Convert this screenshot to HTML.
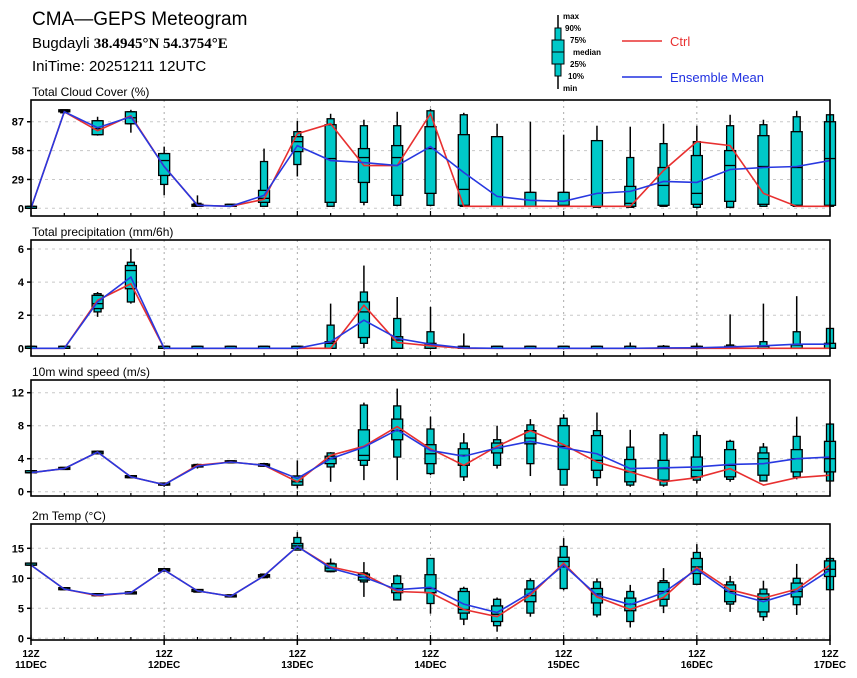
<!DOCTYPE html>
<html><head><meta charset="utf-8">
<style>
html,body{margin:0;padding:0;background:#fff;}
svg{display:block;font-family:"Liberation Sans","DejaVu Sans",sans-serif;}
</style></head>
<body>
<svg id="chart" width="857" height="678" viewBox="0 0 857 678">
<text x="32" y="25" font-size="19" fill="#000">CMA—GEPS Meteogram</text>
<text x="32" y="48" font-size="15" fill="#000">Bugdayli <tspan font-family="Liberation Serif,serif" font-weight="bold">38.4945°N 54.3754°E</tspan></text>
<text x="32" y="71" font-size="15" fill="#000">IniTime: 20251211 12UTC</text>
<g>
<line x1="558" y1="15" x2="558" y2="89" stroke="#000" stroke-width="1.5"/>
<rect x="555" y="28" width="6" height="48" fill="#00c8c8" stroke="#000"/>
<rect x="552" y="40" width="12" height="24" fill="#00c8c8" stroke="#000"/>
<line x1="552" y1="52" x2="564" y2="52" stroke="#000"/>
<g font-size="8" font-weight="bold" fill="#000">
<text x="563" y="19">max</text><text x="565" y="31">90%</text><text x="570" y="43">75%</text>
<text x="573" y="55">median</text><text x="570" y="67">25%</text><text x="568" y="79">10%</text><text x="563" y="91">min</text>
</g>
<line x1="622" y1="41" x2="662" y2="41" stroke="#e83030" stroke-width="1.5"/>
<text x="670" y="46" font-size="13" fill="#e83030">Ctrl</text>
<line x1="622" y1="77" x2="662" y2="77" stroke="#2030e0" stroke-width="1.5"/>
<text x="670" y="82" font-size="13" fill="#2030e0">Ensemble Mean</text>
</g>
</svg>
<script>
// ---- time axis ----
const nSteps = 25;
const dayLabels = ["11DEC","12DEC","13DEC","14DEC","15DEC","16DEC","17DEC"];

// ---- cloud cover (%) ----
const cloudMin = [0,96,73,76,13,2,2,2,32,2,3,2,2,2,2,2,2,1,1,2,0,0,2,2,2];
const cloudP10 = [0,96,74,85,24,2,2,2,44,2,6,3,3,2,2,2,2,1,1,2,1,1,2,2,2];
const cloudP25 = [0,97,74,85,33,2,2,6,57,6,26,13,15,3,2,2,2,2,2,3,4,7,4,3,3];
const cloudMed = [0,98,80,91,48,3,2,10,67,50,51,51,60,19,2,2,3,2,5,23,15,43,42,41,50];
const cloudP75 = [0,99,88,97,55,4,2,18,72,84,60,63,82,74,72,16,16,68,22,41,53,58,73,77,87];
const cloudP90 = [0,99,88,97,55,5,2,47,77,90,83,83,98,94,72,16,16,68,51,65,67,83,84,92,94];
const cloudMax = [0,99,92,99,62,13,2,60,88,95,89,97,100,96,85,87,74,83,82,85,83,94,89,98,95];
const cloudCtrl = [0,97,78,93,42,3,2,9,75,85,43,43,95,2,2,2,2,2,2,38,67,63,15,2,2];
const cloudMean = [0,97,81,92,42,3,2,13,63,48,46,43,62,36,12,8,7,15,17,27,26,39,41,42,48];

// ---- precipitation (mm/6h) ----
const prMin = [0,0,1.9,2.7,0,0,0,0,0,0,0,0,0,0,0,0,0,0,0,0,0,0,0,0,0];
const prP10 = [0,0,2.2,2.8,0,0,0,0,0,0,0.3,0,0,0,0,0,0,0,0,0,0,0,0,0,0];
const prP25 = [0,0,2.4,3.6,0,0,0,0,0,0,0.65,0,0,0,0,0,0,0,0,0,0,0,0,0,0];
const prMed = [0,0,2.7,4.7,0,0,0,0,0,0.3,2.2,0.5,0.2,0,0,0,0,0,0,0,0,0,0,0,0];
const prP75 = [0,0,3.2,5.0,0,0,0,0,0,0.4,2.8,0.7,0.3,0,0,0,0,0,0,0.05,0.05,0.1,0.1,0.2,0.3];
const prP90 = [0,0,3.3,5.2,0,0,0,0,0,1.4,3.4,1.8,1.0,0,0,0,0,0,0.02,0.05,0.1,0.2,0.4,1.0,1.2];
const prMax = [0,0,3.4,6.0,0,0,0,0,0,2.7,5.0,3.1,2.5,0.9,0,0,0,0,0.35,0.2,0.3,2.05,2.7,3.15,1.2];
const prCtrl = [0,0,2.9,3.9,0,0,0,0,0,0,2.6,0.35,0.15,0,0,0,0,0,0,0,0,0,0,0,0];
const prMean = [0,0,2.8,4.3,0,0,0,0,0,0.4,1.7,0.6,0.25,0.02,0,0,0,0,0,0.02,0.03,0.08,0.15,0.25,0.25];

// ---- wind speed (m/s) ----
const wsMin = [2.3,2.7,4.7,1.7,0.6,2.8,3.5,3.0,0.4,1.2,1.4,1.4,2.0,1.3,2.8,1.9,0.8,0.7,0.6,0.6,1.0,1.2,1.3,1.5,1.3];
const wsP10 = [2.3,2.7,4.6,1.7,0.8,3.0,3.5,3.1,0.8,3.0,3.2,4.2,2.2,1.8,3.2,3.4,0.8,1.7,0.8,0.8,1.4,1.5,1.3,1.8,1.3];
const wsP25 = [2.3,2.7,4.6,1.7,0.8,3.0,3.5,3.1,0.8,3.4,3.8,6.3,3.4,3.2,4.7,5.8,2.7,2.6,1.2,1.4,1.8,1.8,2.0,2.4,2.4];
const wsMed = [2.3,2.8,4.8,1.8,0.85,3.1,3.6,3.2,1.2,4.0,4.4,7.4,4.6,4.4,5.3,6.5,5.5,3.8,2.4,2.8,2.6,3.2,4.0,4.0,4.0];
const wsP75 = [2.3,2.9,4.9,1.9,0.9,3.2,3.6,3.3,1.9,4.3,7.5,8.8,5.7,5.2,5.9,7.4,8.0,6.8,3.9,3.8,4.2,5.1,4.7,5.1,6.1];
const wsP90 = [2.3,2.9,4.9,1.9,0.9,3.3,3.6,3.4,1.9,4.7,10.5,10.4,7.6,5.9,6.3,8.1,8.9,7.4,5.4,6.9,6.8,6.1,5.4,6.7,8.2];
const wsMax = [2.3,2.9,5.0,2.0,1.0,3.4,3.7,3.5,3.8,4.8,10.8,12.5,9.1,7.1,8.0,8.8,9.4,9.6,7.5,7.2,7.4,6.3,5.9,9.1,8.4];
const wsCtrl = [2.3,2.8,4.8,1.8,0.85,3.2,3.6,3.2,1.2,4.4,5.5,7.9,5.2,3.2,5.5,7.4,5.7,3.6,2.4,1.2,1.7,2.8,0.8,1.7,2.0];
const wsMean = [2.3,2.8,4.8,1.8,0.85,3.1,3.6,3.2,1.6,4.0,5.4,7.5,5.0,4.3,5.3,6.1,5.3,4.6,2.8,2.9,3.0,3.3,3.4,4.0,4.2];

// ---- 2m temperature (°C) ----
const tMin = [12.2,8.1,7.1,7.4,11.2,7.7,6.9,10.1,14.7,11.0,6.9,6.3,4.1,2.2,1.1,3.6,8.0,3.5,1.8,4.2,9.0,4.4,2.9,3.9,8.0];
const tP10 = [12.2,8.1,7.1,7.4,11.2,7.7,6.9,10.1,14.7,11.1,9.4,6.4,5.8,3.2,2.1,4.2,8.3,3.9,2.8,5.4,9.0,5.7,3.6,5.6,8.1];
const tP25 = [12.2,8.1,7.1,7.4,11.2,7.8,6.9,10.2,15.0,11.2,9.7,7.6,7.6,4.2,2.8,6.1,11.9,5.9,4.6,6.5,10.8,6.1,4.4,6.9,10.3];
const tMed = [12.2,8.2,7.2,7.6,11.4,7.9,7.1,10.4,15.4,11.7,10.2,8.3,8.3,4.8,4.0,7.1,12.8,7.4,5.7,7.8,11.9,7.8,6.5,7.8,11.5];
const tP75 = [12.3,8.3,7.3,7.7,11.6,8.1,7.2,10.6,15.8,12.4,10.7,9.1,10.6,7.8,5.4,8.2,13.5,8.3,6.7,9.3,13.3,8.9,7.4,9.2,12.9];
const tP90 = [12.3,8.3,7.3,7.7,11.6,8.1,7.2,10.7,16.8,12.5,10.9,10.4,13.3,8.3,6.5,9.6,15.3,9.4,7.8,9.6,14.3,9.4,8.2,10.0,13.3];
const tMax = [12.3,8.3,7.3,7.7,11.6,8.1,7.2,10.7,17.7,13.3,12.7,10.6,13.3,8.6,6.8,10.0,16.7,10.0,8.9,11.7,15.7,10.4,9.6,12.4,13.5];
const tCtrl = [12.2,8.2,7.1,7.6,11.4,7.9,7.0,10.4,15.3,11.9,10.7,7.8,7.6,4.8,3.6,7.2,12.5,6.9,4.8,6.8,11.8,8.1,6.7,8.2,12.2];
const tMean = [12.2,8.2,7.2,7.6,11.4,7.9,7.0,10.4,15.3,11.7,10.2,8.1,8.5,5.7,4.3,7.6,12.2,7.2,5.6,7.6,11.5,7.6,6.1,7.8,11.4];

const cloudTicks = [0,29,58,87];
const prTicks = [0,2,4,6];
const wsTicks = [0,4,8,12];
const tTicks = [0,5,10,15];

const NS = "http://www.w3.org/2000/svg";
const svg = document.getElementById("chart");
const X0 = 31, X1 = 830;
function xScale(i){ return X0 + i * (X1 - X0) / (nSteps - 1); }
function mk(tag, attrs, parent){
  const e = document.createElementNS(NS, tag);
  for (const k in attrs) e.setAttribute(k, attrs[k]);
  (parent || svg).appendChild(e);
  return e;
}

const panels = [
  {key:"cloud", title:"Total Cloud Cover (%)", top:100, bot:216, v0:208.3, pxPerUnit:0.995, ticks:cloudTicks,
   s:[cloudMin,cloudP10,cloudP25,cloudMed,cloudP75,cloudP90,cloudMax], ctrl:cloudCtrl, mean:cloudMean},
  {key:"precip", title:"Total precipitation (mm/6h)", top:240, bot:356, v0:348.3, pxPerUnit:16.55, ticks:prTicks,
   s:[prMin,prP10,prP25,prMed,prP75,prP90,prMax], ctrl:prCtrl, mean:prMean},
  {key:"wind", title:"10m wind speed (m/s)", top:380, bot:496, v0:491.7, pxPerUnit:8.25, ticks:wsTicks,
   s:[wsMin,wsP10,wsP25,wsMed,wsP75,wsP90,wsMax], ctrl:wsCtrl, mean:wsMean},
  {key:"temp", title:"2m Temp (°C)", top:524, bot:640, v0:638.3, pxPerUnit:6.0, ticks:tTicks,
   s:[tMin,tP10,tP25,tMed,tP75,tP90,tMax], ctrl:tCtrl, mean:tMean}
];

panels.forEach(function(p, pi){
  const y = function(v){ return p.v0 - v * p.pxPerUnit; };
  const g = mk("g", {});
  
  
  const t = mk("text", {x:32, y:p.top - 4, "font-size":12, fill:"#000"}, g);
  t.textContent = p.title;
  
  
  // grid
  p.ticks.forEach(function(v){
    const gl = mk("line", {x1:X0, x2:X1, y1:y(v), y2:y(v), stroke:"#c8c8c8", "stroke-width":1, "stroke-dasharray":"3,4"}, g);
    
    
    const tk = mk("line", {x1:X0-4, x2:X0, y1:y(v), y2:y(v), stroke:"#000", "stroke-width":1.5}, g);
    
    
    const tl = mk("text", {x:X0-7, y:y(v)+4, "font-size":11, "font-weight":"bold", "text-anchor":"end", fill:"#000"}, g);
    tl.textContent = String(v);
    
    
  });
  for (let d = 1; d < dayLabels.length - 1; d++){
    const vl = mk("line", {x1:xScale(d*4), x2:xScale(d*4), y1:p.top, y2:p.bot, stroke:"#aaa", "stroke-width":1, "stroke-dasharray":"2,4"}, g);
    
    
  }
  // boxes
  for (let i = 0; i < nSteps; i++){
    const s = p.s.map(function(a){ return a[i]; });
    const cx = xScale(i);
    const bg = mk("g", {}, g);
    
    
    const wl = mk("line", {x1:cx, x2:cx, y1:y(s[6]), y2:y(s[0]), stroke:"#000", "stroke-width":1.5}, bg);
    
    
    const h90 = Math.max(2, y(s[1]) - y(s[5]));
    const r1 = mk("rect", {x:cx-3.5, y:Math.min(y(s[5]), y(s[1])-2), width:7, height:h90, fill:"#00c8c8", stroke:"#000", "stroke-width":1.3}, bg);
    
    
    const h75 = Math.max(2, y(s[2]) - y(s[4]));
    const r2 = mk("rect", {x:cx-5.5, y:Math.min(y(s[4]), y(s[2])-2), width:11, height:h75, fill:"#00c8c8", stroke:"#000", "stroke-width":1.3}, bg);
    
    
    const ml = mk("line", {x1:cx-5.5, x2:cx+5.5, y1:y(s[3]), y2:y(s[3]), stroke:"#000", "stroke-width":1.3}, bg);
    
    
  }
  // lines
  const ptsC = p.ctrl.map(function(v,i){ return xScale(i)+","+y(v); }).join(" ");
  const lc = mk("polyline", {points:ptsC, fill:"none", stroke:"#e83030", "stroke-width":1.6}, g);
  
  
  const ptsM = p.mean.map(function(v,i){ return xScale(i)+","+y(v); }).join(" ");
  const lm = mk("polyline", {points:ptsM, fill:"none", stroke:"#2838e0", "stroke-width":1.6}, g);
  
  
  // frame
  const fr = mk("rect", {x:X0, y:p.top, width:X1-X0, height:p.bot-p.top, fill:"none", stroke:"#000", "stroke-width":1.6}, g);
  
  
  // x ticks
  for (let i = 0; i < nSteps; i++){
    const big = (i % 4 === 0);
    const xt = mk("line", {x1:xScale(i), x2:xScale(i), y1:p.bot, y2:p.bot-(big?5:3), stroke:"#000", "stroke-width":1.2}, g);
    
    
  }
});

// x-axis labels
dayLabels.forEach(function(lab, d){
  const x = xScale(d*4);
  const tk = mk("line", {x1:x, x2:x, y1:640, y2:645, stroke:"#000", "stroke-width":1.5});
  
  
  const t1 = mk("text", {x:x, y:657, "font-size":10, "font-weight":"bold", "text-anchor":"middle", fill:"#000"});
  t1.textContent = "12Z";
  
  
  const t2 = mk("text", {x:x, y:668, "font-size":10, "font-weight":"bold", "text-anchor":"middle", fill:"#000"});
  t2.textContent = lab;
  
  
});
</script>
</body></html>
